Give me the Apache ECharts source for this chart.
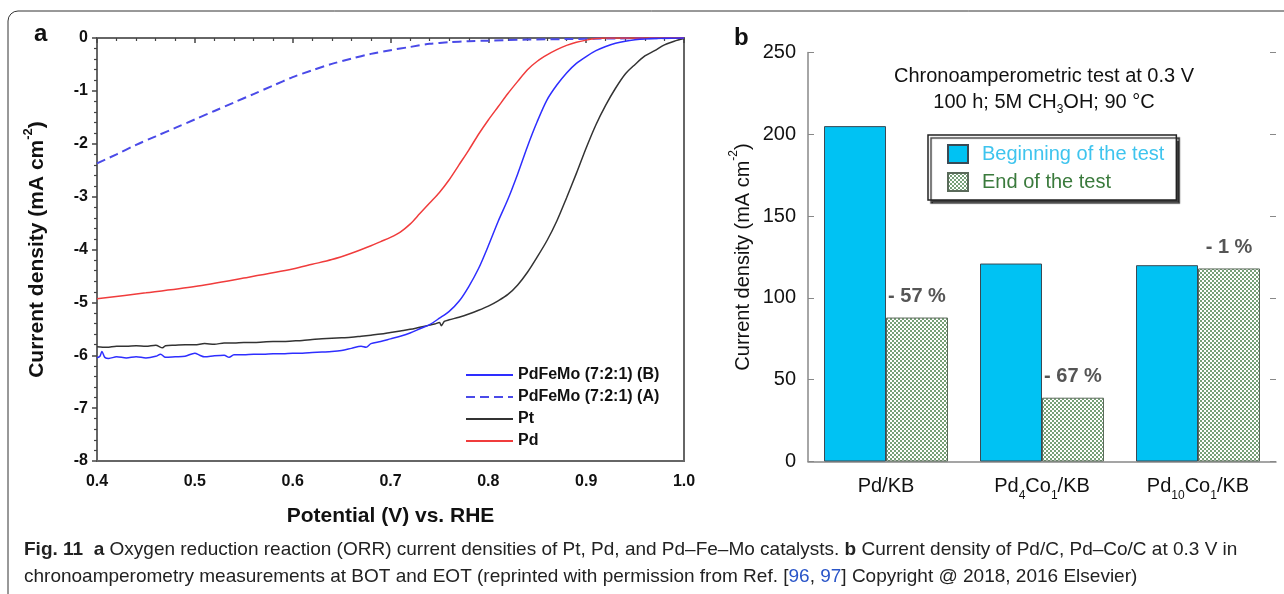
<!DOCTYPE html>
<html><head><meta charset="utf-8">
<script src="https://cdn.jsdelivr.net/npm/echarts@6/dist/echarts.min.js"></script>
<style>html,body{margin:0;padding:0;background:#fff}#c{width:1284px;height:594px}</style>
</head><body><div id="c"></div>
<script>
// ---------- Panel a data (Potential V vs RHE, current density mA cm-2) ----------
const potentialTicks = [0.4, 0.5, 0.6, 0.7, 0.8, 0.9, 1.0];
const pdfemoB = [[0.400,-6.05],[0.403,-6.02],[0.405,-5.93],[0.408,-6.04],[0.412,-6.06],[0.42,-6.03],[0.43,-6.05],[0.44,-6.03],[0.45,-6.05],[0.46,-6.02],[0.465,-5.98],[0.47,-6.04],[0.48,-6.03],[0.49,-6.02],[0.50,-5.96],[0.505,-6.00],[0.51,-6.03],[0.52,-6.01],[0.53,-6.00],[0.535,-6.04],[0.54,-5.99],[0.55,-5.99],[0.56,-5.98],[0.57,-5.98],[0.58,-5.97],[0.59,-5.97],[0.60,-5.96],[0.61,-5.96],[0.62,-5.95],[0.63,-5.94],[0.64,-5.93],[0.65,-5.91],[0.66,-5.87],[0.67,-5.83],[0.675,-5.85],[0.68,-5.78],[0.69,-5.74],[0.70,-5.69],[0.71,-5.64],[0.72,-5.58],[0.73,-5.50],[0.74,-5.42],[0.75,-5.30],[0.76,-5.17],[0.77,-4.98],[0.78,-4.70],[0.79,-4.36],[0.80,-3.93],[0.81,-3.47],[0.82,-3.05],[0.83,-2.57],[0.84,-2.05],[0.85,-1.58],[0.86,-1.17],[0.87,-0.89],[0.88,-0.66],[0.89,-0.48],[0.90,-0.35],[0.91,-0.24],[0.92,-0.16],[0.93,-0.10],[0.94,-0.06],[0.95,-0.035],[0.96,-0.02],[0.98,-0.005],[1.00,0]];
const pdfemoA = [[0.40,-2.37],[0.42,-2.20],[0.44,-2.02],[0.46,-1.86],[0.48,-1.70],[0.50,-1.54],[0.52,-1.38],[0.54,-1.22],[0.56,-1.06],[0.58,-0.90],[0.60,-0.74],[0.62,-0.61],[0.64,-0.49],[0.66,-0.39],[0.68,-0.30],[0.70,-0.23],[0.72,-0.17],[0.74,-0.11],[0.76,-0.08],[0.78,-0.06],[0.80,-0.05],[0.84,-0.03],[0.88,-0.02],[0.92,-0.01],[1.00,0]];
const pt = [[0.40,-5.84],[0.41,-5.85],[0.42,-5.83],[0.43,-5.83],[0.44,-5.82],[0.45,-5.83],[0.46,-5.81],[0.467,-5.86],[0.47,-5.82],[0.48,-5.81],[0.49,-5.80],[0.50,-5.80],[0.51,-5.78],[0.52,-5.79],[0.53,-5.77],[0.54,-5.77],[0.55,-5.76],[0.56,-5.76],[0.57,-5.75],[0.58,-5.74],[0.59,-5.74],[0.60,-5.73],[0.61,-5.72],[0.62,-5.70],[0.63,-5.69],[0.64,-5.68],[0.65,-5.67],[0.66,-5.66],[0.67,-5.64],[0.68,-5.62],[0.69,-5.60],[0.70,-5.57],[0.71,-5.54],[0.72,-5.51],[0.73,-5.47],[0.74,-5.43],[0.745,-5.41],[0.750,-5.38],[0.752,-5.44],[0.755,-5.36],[0.76,-5.33],[0.77,-5.28],[0.78,-5.22],[0.79,-5.15],[0.80,-5.07],[0.81,-4.97],[0.82,-4.85],[0.83,-4.67],[0.84,-4.43],[0.85,-4.14],[0.86,-3.83],[0.87,-3.46],[0.88,-3.02],[0.89,-2.56],[0.90,-2.08],[0.91,-1.64],[0.92,-1.27],[0.93,-0.95],[0.94,-0.68],[0.95,-0.50],[0.96,-0.34],[0.97,-0.24],[0.98,-0.13],[0.99,-0.06],[1.00,-0.01]];
const pd = [[0.40,-4.93],[0.45,-4.82],[0.50,-4.70],[0.55,-4.54],[0.60,-4.37],[0.62,-4.28],[0.64,-4.19],[0.66,-4.07],[0.68,-3.93],[0.69,-3.85],[0.70,-3.77],[0.71,-3.67],[0.72,-3.52],[0.73,-3.32],[0.74,-3.12],[0.75,-2.92],[0.76,-2.68],[0.77,-2.40],[0.78,-2.12],[0.79,-1.82],[0.80,-1.55],[0.81,-1.30],[0.82,-1.05],[0.83,-0.82],[0.84,-0.60],[0.85,-0.44],[0.86,-0.32],[0.87,-0.22],[0.88,-0.14],[0.89,-0.08],[0.90,-0.04],[0.91,-0.01],[0.92,0],[1.00,0]];
const seriesNamesA = ['PdFeMo (7:2:1) (B)', 'PdFeMo (7:2:1) (A)', 'Pt', 'Pd'];

// ---------- Panel b data ----------
const catalysts = ['Pd/KB', 'Pd{sub|4}Co{sub|1}/KB', 'Pd{sub|10}Co{sub|1}/KB'];
const beginningValues = [205, 121, 120];
const endValues = [88, 39, 118];
const dropLabels = ['- 57 %', '- 67 %', '- 1 %'];
const densityTicks = [0, 50, 100, 150, 200, 250];

// checkered pattern for "End of the test"
const pc = document.createElement('canvas');
pc.width = 4; pc.height = 4;
const g = pc.getContext('2d');
g.fillStyle = '#ffffff'; g.fillRect(0, 0, 4, 4);
g.fillStyle = '#76a077'; g.fillRect(0, 0, 2, 2); g.fillRect(2, 2, 2, 2);
const checker = { image: pc, repeat: 'repeat' };

const F = 'Liberation Sans, Arial, sans-serif';
const chart = echarts.init(document.getElementById('c'), null, { renderer: 'canvas' });

const option = {
  animation: false,
  textStyle: { fontFamily: F },
  grid: [
    { left: 97, top: 38, width: 587, height: 423, show: true, borderColor: '#666', borderWidth: 2, backgroundColor: 'transparent' },
    { left: 808, top: 52.5, width: 468, height: 409 }
  ],
  legend: [
    {
      data: seriesNamesA, orient: 'vertical', left: 460, top: 362,
      itemWidth: 47, itemHeight: 14, itemGap: 6, selectedMode: false,
      itemStyle: { opacity: 0 },
      textStyle: { fontFamily: F, fontWeight: 'bold', fontSize: 16, color: '#111' }
    },
    {
      data: [
        { name: 'Beginning of the test', textStyle: { color: '#3ec4ee' } },
        { name: 'End of the test', textStyle: { color: '#3a7a3c' } }
      ],
      orient: 'vertical', left: 928, top: 135, selectedMode: false, icon: 'rect',
      padding: [9, 12, 8, 19], itemWidth: 20, itemHeight: 18, itemGap: 8,
      backgroundColor: '#fff', borderColor: '#222', borderWidth: 1.5,
      shadowColor: 'rgba(0,0,0,0.75)', shadowOffsetX: 3, shadowOffsetY: 3, shadowBlur: 1,
      textStyle: { fontFamily: F, fontSize: 20, padding: [0, 0, 0, 9] }
    }
  ],
  xAxis: [
    {
      type: 'value', gridIndex: 0, min: 0.4, max: 1.0, interval: 0.1,
      name: 'Potential (V) vs. RHE', nameLocation: 'middle', nameGap: 45,
      nameTextStyle: { fontFamily: F, fontWeight: 'bold', fontSize: 21, color: '#111' },
      axisLine: { lineStyle: { color: '#666', width: 2 } },
      axisTick: { inside: false, length: 5, lineStyle: { color: '#444', width: 1.5 } },
      minorTick: { show: true, splitNumber: 5, length: 3, lineStyle: { color: '#444', width: 1.2 } },
      splitLine: { show: false },
      axisLabel: { fontFamily: F, fontWeight: 'bold', fontSize: 16, color: '#111', margin: 13,
        formatter: v => v.toFixed(1) }
    },
    {
      type: 'category', gridIndex: 1, data: catalysts,
      axisLine: { lineStyle: { color: '#888', width: 1.5 } },
      axisTick: { inside: true, length: 7, lineStyle: { color: '#888' } },
      axisLabel: { interval: 0, fontFamily: F, fontSize: 20, color: '#111', margin: 10, lineHeight: 30,
        rich: { sub: { fontSize: 12, verticalAlign: 'bottom', lineHeight: 30 } } }
    }
  ],
  yAxis: [
    {
      type: 'value', gridIndex: 0, min: -8, max: 0, interval: 1,
      name: 'Current density (mA cm{sup|-2})', nameLocation: 'middle', nameGap: 45, nameRotate: 90,
      nameTextStyle: { fontFamily: F, fontWeight: 'bold', fontSize: 21, color: '#111', lineHeight: 30,
        rich: { sup: { fontFamily: F, fontWeight: 'bold', fontSize: 13, verticalAlign: 'top', lineHeight: 30 } } },
      axisLine: { lineStyle: { color: '#666', width: 2 } },
      axisTick: { inside: false, length: 5, lineStyle: { color: '#444', width: 1.5 } },
      minorTick: { show: true, splitNumber: 5, length: 3, lineStyle: { color: '#444', width: 1.2 } },
      splitLine: { show: false },
      axisLabel: { fontFamily: F, fontWeight: 'bold', fontSize: 16, color: '#111', margin: 9 }
    },
    {
      type: 'value', gridIndex: 1, min: 0, max: 250, interval: 50,
      name: 'Current density (mA cm{sup|-2})', nameLocation: 'middle', nameGap: 50, nameRotate: 90,
      nameTextStyle: { fontFamily: F, fontSize: 20, color: '#111', lineHeight: 30,
        rich: { sup: { fontFamily: F, fontSize: 12, verticalAlign: 'top', lineHeight: 30 } } },
      axisLine: { show: true, lineStyle: { color: '#888', width: 1.5 } },
      axisTick: { show: true, inside: true, length: 6, lineStyle: { color: '#888' } },
      splitLine: { show: false },
      axisLabel: { fontFamily: F, fontSize: 20, color: '#111', margin: 12 }
    },
    {
      type: 'value', gridIndex: 1, min: 0, max: 250, interval: 50, position: 'right',
      axisLine: { show: false },
      axisTick: { show: true, inside: true, length: 6, lineStyle: { color: '#888' } },
      axisLabel: { show: false }, splitLine: { show: false }
    }
  ],
  series: [
    { name: seriesNamesA[0], type: 'line', xAxisIndex: 0, yAxisIndex: 0, data: pdfemoB, symbol: 'none', smooth: 0.3,
      lineStyle: { color: '#2e2eff', width: 1.5 }, itemStyle: { color: '#2e2eff' }, z: 4 },
    { name: seriesNamesA[1], type: 'line', xAxisIndex: 0, yAxisIndex: 0, data: pdfemoA, symbol: 'none', smooth: 0.3,
      lineStyle: { color: '#4a4ae8', width: 2, type: [9, 5] }, itemStyle: { color: '#4a4ae8' }, z: 3 },
    { name: seriesNamesA[2], type: 'line', xAxisIndex: 0, yAxisIndex: 0, data: pt, symbol: 'none', smooth: 0.3,
      lineStyle: { color: '#333', width: 1.5 }, itemStyle: { color: '#333' }, z: 3 },
    { name: seriesNamesA[3], type: 'line', xAxisIndex: 0, yAxisIndex: 0, data: pd, symbol: 'none', smooth: 0.3,
      lineStyle: { color: '#f03c3c', width: 1.5 }, itemStyle: { color: '#f03c3c' }, z: 3 },
    { name: 'Beginning of the test', type: 'bar', xAxisIndex: 1, yAxisIndex: 1, data: beginningValues,
      barWidth: 62, barGap: '0%',
      itemStyle: { color: '#00c2f3', borderColor: '#3a4a55', borderWidth: 1 } },
    { name: 'End of the test', type: 'bar', xAxisIndex: 1, yAxisIndex: 1, data: endValues,
      barWidth: 62, barGap: '0%',
      itemStyle: { color: checker, borderColor: '#5a6a5a', borderWidth: 1 },
      label: { show: true, position: 'top', distance: 11, fontFamily: F, fontSize: 20, fontWeight: 'bold', color: '#555',
        formatter: p => dropLabels[p.dataIndex] } }
  ],
  graphic: [
    { type: 'rect', shape: { x: 8, y: 11, width: 1300, height: 620, r: 10 }, style: { fill: 'none', stroke: '#333', lineWidth: 1 }, silent: true },
    { type: 'text', left: 34, top: 22, style: { text: 'a', font: 'bold 24px ' + F, fill: '#111' } },
    { type: 'text', left: 734, top: 26, style: { text: 'b', font: 'bold 24px ' + F, fill: '#111' } },
    { type: 'text', x: 1044, y: 76, style: { text: 'Chronoamperometric test at 0.3 V', font: '20px ' + F, fill: '#111', align: 'center', verticalAlign: 'middle' } },
    { type: 'text', x: 1044, y: 102, style: { text: '100 h; 5M CH{sub|3}OH; 90 °C', font: '20px ' + F, fill: '#111', align: 'center', verticalAlign: 'middle', lineHeight: 28,
        rich: { sub: { font: '12px ' + F, verticalAlign: 'bottom', lineHeight: 28 } } } },
    { type: 'text', left: 24, top: 540, style: {
        text: '{b|Fig. 11}  {b|a} Oxygen reduction reaction (ORR) current densities of Pt, Pd, and Pd–Fe–Mo catalysts. {b|b} Current density of Pd/C, Pd–Co/C at 0.3 V in',
        font: '19px "Liberation Sans Narrow", "Liberation Sans", sans-serif', fill: '#222',
        rich: { b: { font: 'bold 19px "Liberation Sans Narrow", "Liberation Sans", sans-serif', fill: '#222' } } } },
    { type: 'text', left: 24, top: 567, style: {
        text: 'chronoamperometry measurements at BOT and EOT (reprinted with permission from Ref. [{l|96}, {l|97}] Copyright @ 2018, 2016 Elsevier)',
        font: '19px "Liberation Sans Narrow", "Liberation Sans", sans-serif', fill: '#222',
        rich: { l: { font: '19px "Liberation Sans Narrow", "Liberation Sans", sans-serif', fill: '#2a55c8' } } } }
  ]
};
chart.setOption(option);
</script>
</body></html>
